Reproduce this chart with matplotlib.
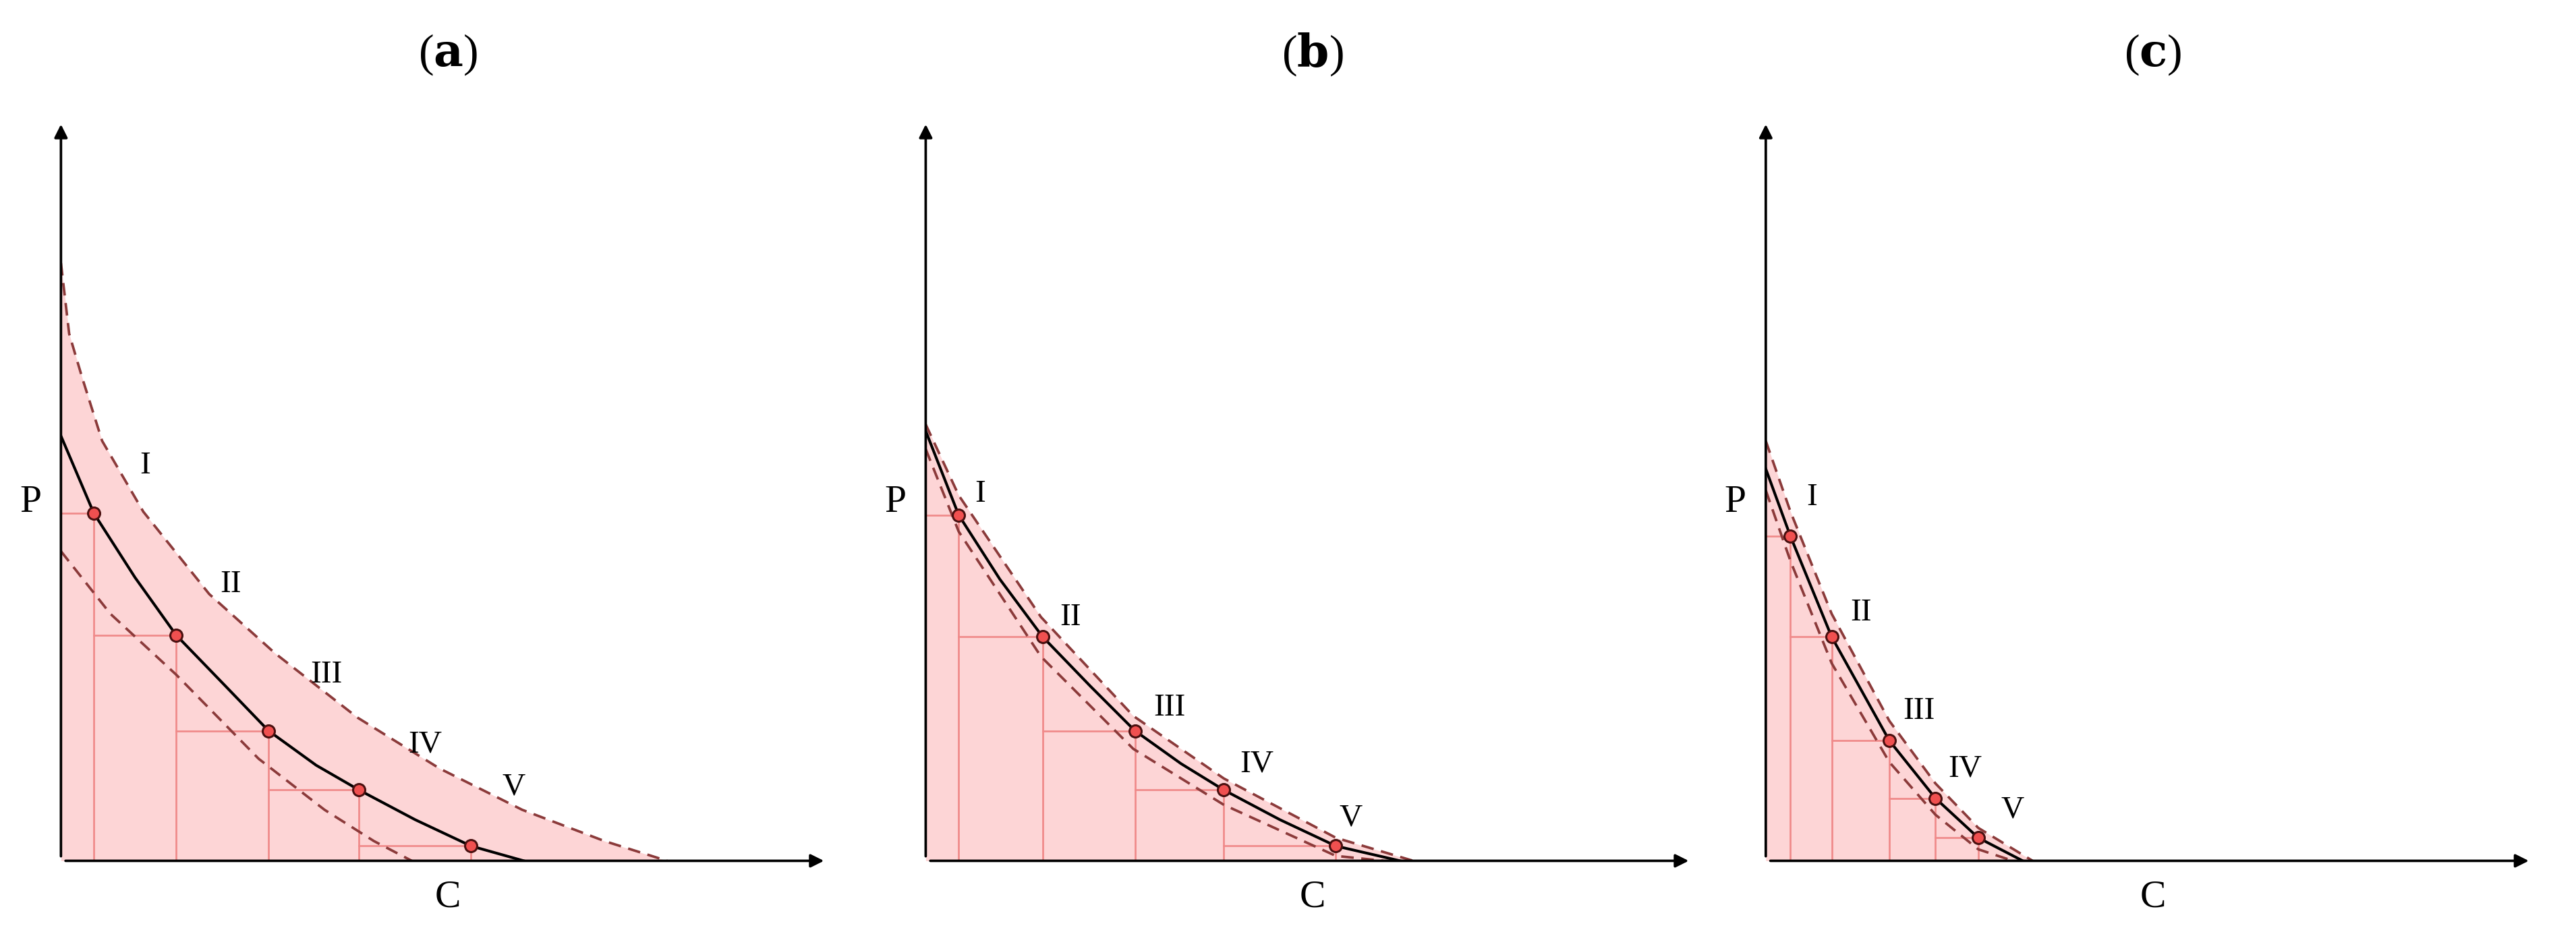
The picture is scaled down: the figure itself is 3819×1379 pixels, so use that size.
import matplotlib
matplotlib.use("Agg")
import matplotlib.pyplot as plt

plt.rcParams['mathtext.fontset'] = 'dejavuserif'
plt.rcParams['font.family'] = ['Liberation Serif', 'DejaVu Serif']

panels = ['a', 'b', 'c']
roman = ['I', 'II', 'III', 'IV', 'V']

# points (C, P), per panel
pts_C = {'a': [20, 70, 126, 181, 249], 'b': [20, 71, 127, 181, 249], 'c': [15, 40, 75, 103, 129]}
pts_P = {'a': [211, 137, 79, 43, 9], 'b': [210, 136, 79, 43, 9], 'c': [197, 136, 73, 38, 14]}

solid_C = {'a': [0, 20, 45, 70, 100, 126, 155, 181, 215, 249, 281],
           'b': [0, 20, 45, 71, 100, 127, 155, 181, 215, 249, 288],
           'c': [0, 15, 40, 75, 103, 129, 156]}
solid_P = {'a': [258, 211, 172, 137, 106, 79, 58, 43, 25, 9, 0],
           'b': [261, 210, 171, 136, 106, 79, 59, 43, 25, 9, 0],
           'c': [238, 197, 136, 73, 38, 14, 0]}
upper_C = {'a': [0, 5, 13, 25, 50, 90, 130, 180, 230, 280, 330, 368],
           'b': [0, 20, 70, 126, 181, 249, 296],
           'c': [0, 15, 40, 75, 103, 129, 162]}
upper_P = {'a': [363, 320, 293, 255, 212, 162, 126, 87, 56, 31, 12, 0],
           'b': [265, 222, 148, 88, 50, 14, 0],
           'c': [255, 212, 150, 85, 47, 20, 0]}
lower_C = {'a': [0, 30, 70, 120, 160, 190, 213],
           'b': [0, 20, 70, 126, 181, 249, 278],
           'c': [0, 15, 40, 75, 103, 129, 150]}
lower_P = {'a': [188, 150, 113, 62, 31, 12, 0],
           'b': [250, 200, 124, 68, 34, 3, 0],
           'c': [225, 182, 120, 60, 28, 7, 0]}
label_C = {'a': [51, 103, 161, 221, 275], 'b': [33, 88, 148, 201, 258], 'c': [28, 58, 93, 121, 150]}
label_P = {'a': [240, 168, 113, 71, 45], 'b': [223, 148, 93, 59, 26], 'c': [221, 151, 91, 56, 31]}

W, H = 1564, 565
fig = plt.figure(figsize=(15.64, 5.65), dpi=244.2)
origins = {'a': 37, 'b': 562, 'c': 1072}
for p in panels:
    ox = origins[p]
    ax = fig.add_axes([ox / W, (H - 523) / H, 463 / W, 448 / H])
    ax.set_xlim(0, 463); ax.set_ylim(0, 448)
    ax.axis('off')
    ax.fill_between(upper_C[p], upper_P[p], 0, color='#fdd5d6', lw=0, zorder=1)
    prev = 0
    for c, v in zip(pts_C[p], pts_P[p]):
        ax.plot([c, c], [0, v], color='#f08a8a', lw=0.8, zorder=2)
        ax.plot([prev, c], [v, v], color='#f08a8a', lw=0.8, zorder=2)
        prev = c
    ax.plot(upper_C[p], upper_P[p], color='#8b3a3a', lw=1.1, ls=(0, (5, 3)), zorder=3)
    ax.plot(lower_C[p], lower_P[p], color='#8b3a3a', lw=1.1, ls=(0, (5, 3)), zorder=3)
    ax.plot(solid_C[p], solid_P[p], color='black', lw=1.2, zorder=4)
    ax.scatter(pts_C[p], pts_P[p], s=28, color='#f05050', edgecolor='#4a1010', lw=0.9, zorder=5)
    for r, c, v in zip(roman, label_C[p], label_P[p]):
        ax.text(c, v, r, fontsize=14, ha='center', va='center')
    ax.annotate('', xy=(0, 450), xytext=(0, 0), annotation_clip=False,
                arrowprops=dict(arrowstyle='-|>', color='black', lw=1.1, mutation_scale=12))
    ax.annotate('', xy=(466, 0), xytext=(0, 0), annotation_clip=False,
                arrowprops=dict(arrowstyle='-|>', color='black', lw=1.1, mutation_scale=12))
    ax.text(-12, 218, 'P', fontsize=17, ha='right', va='center')
    ax.text(235, -22, 'C', fontsize=17, ha='center', va='center')
    ax.text(235, 490, r'($\mathbf{' + p + r'}$)', fontsize=20, ha='center', va='center')

fig.savefig('out.png', dpi=244.2)
